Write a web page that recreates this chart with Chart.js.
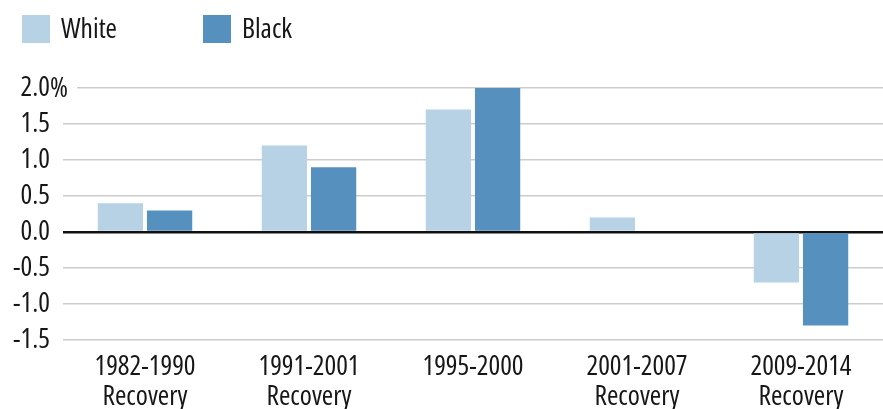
<!DOCTYPE html>
<html>
<head>
<meta charset="utf-8">
<script src="https://cdn.jsdelivr.net/npm/chart.js@4/dist/chart.umd.min.js"></script>
<style>
  html, body { margin: 0; padding: 0; background: #fff; }
  #wrap { width: 883px; height: 409px; position: relative; }
</style>
</head>
<body>
<div id="wrap"><canvas id="c" width="883" height="409"></canvas></div>
<script>
// Recovery periods and average annual change, by race
const categories = [
  ['1982-1990', 'Recovery'],
  ['1991-2001', 'Recovery'],
  '1995-2000',
  ['2001-2007', 'Recovery'],
  ['2009-2014', 'Recovery']
];
const seriesNames = ['White', 'Black'];
const whiteValues = [0.4, 1.2, 1.7, 0.2, -0.7];
const blackValues = [0.3, 0.9, 2.0, 0, -1.3];
const yTicks = [-1.5, -1.0, -0.5, 0.0, 0.5, 1.0, 1.5, 2.0];

const TEXT = '#161616';
const COLORS = ['#b8d2e5', '#5590bf'];

// Pick the narrowest available face: a condensed stretch of a variable
// sans if the system has one, otherwise DejaVu Sans Condensed.
function pickFont() {
  const ctx = document.createElement('canvas').getContext('2d');
  const sample = '1982-1990';
  const targetWidth = 108;
  const candidates = [
    { family: "'Liberation Sans Narrow'", stretch: '' },
    { family: "'Open Sans'", stretch: 'condensed' },
    { family: "'Noto Sans'", stretch: 'condensed' },
    { family: "'Noto Sans'", stretch: 'extra-condensed' },
    { family: "'DejaVu Sans Condensed'", stretch: '' }
  ];
  let best = { family: "'DejaVu Sans Condensed', sans-serif", stretch: '', size: 23 };
  let bestSize = 0;
  candidates.forEach(c => {
    ctx.font = '10px monospace';
    const probe = (c.stretch ? c.stretch + ' ' : '') + '27px ' + c.family + ', monospace';
    ctx.font = probe;
    if (ctx.font === '10px monospace') return;
    const w = ctx.measureText(sample).width;
    ctx.font = '27px monospace';
    if (Math.abs(w - ctx.measureText(sample).width) < 0.5) return; // face missing
    const size = Math.min(27.5, 27 * targetWidth / w);
    if (size > bestSize + 0.3) {
      bestSize = size;
      best = { family: c.family + ', sans-serif', stretch: c.stretch, size: size };
    }
  });
  return best;
}
const FACE = pickFont();
const fontOf = (size, lh) => ({ family: FACE.family, size: size, weight: FACE.stretch || undefined, lineHeight: lh || 1.1 });
const cssFont = (size) => (FACE.stretch ? FACE.stretch + ' ' : '') + size + 'px ' + FACE.family;

// Legend drawn across the top-left, plus the "%" suffix on the top tick
const extras = {
  id: 'extras',
  afterDraw(chart) {
    const ctx = chart.ctx;
    ctx.save();
    ctx.font = cssFont(FACE.size);
    ctx.textBaseline = 'middle';
    const legendX = [22, 203];
    chart.data.datasets.forEach((ds, i) => {
      ctx.fillStyle = ds.backgroundColor;
      ctx.fillRect(legendX[i], 15, 28, 28);
      ctx.fillStyle = TEXT;
      ctx.textAlign = 'left';
      ctx.fillText(ds.label, legendX[i] + 39, 30);
    });
    // percent sign after the top tick label
    const y = chart.scales.y;
    const py = y.getPixelForValue(yTicks[yTicks.length - 1]);
    ctx.fillStyle = '#fff';
    ctx.fillRect(y.right - 1, py - 3, 15, 6);
    ctx.fillStyle = TEXT;
    ctx.fillText('%', 50, py + 1);
    ctx.restore();
  }
};

new Chart(document.getElementById('c'), {
  type: 'bar',
  data: {
    labels: categories,
    datasets: [
      { label: seriesNames[0], data: whiteValues, backgroundColor: COLORS[0] },
      { label: seriesNames[1], data: blackValues, backgroundColor: COLORS[1] }
    ]
  },
  options: {
    responsive: false,
    animation: false,
    devicePixelRatio: 1,
    layout: { padding: { top: 88, right: 0, left: 0, bottom: 0 } },
    categoryPercentage: 0.6,
    barPercentage: 0.92,
    plugins: {
      legend: { display: false },
      tooltip: { enabled: false }
    },
    scales: {
      x: {
        grid: { display: false, drawTicks: false },
        border: { display: false },
        ticks: {
          color: TEXT,
          font: fontOf(FACE.size, 1.06),
          padding: 13,
          maxRotation: 0,
          autoSkip: false
        },
        afterFit(s) { s.height = 69; }
      },
      y: {
        min: -1.5,
        max: 2.0,
        afterBuildTicks(s) { s.ticks = yTicks.map(v => ({ value: v })); },
        border: { display: false },
        grid: {
          drawTicks: false,
          color: ctx => ctx.tick && ctx.tick.value === 0 ? '#111' : '#cdcdcd',
          lineWidth: ctx => ctx.tick && ctx.tick.value === 0 ? 2.5 : 1.5
        },
        ticks: {
          color: TEXT,
          font: fontOf(FACE.size),
          padding: 13,
          callback: v => Number(v).toFixed(1)
        },
        afterFit(s) { s.width = 63; }
      }
    }
  },
  plugins: [extras]
});
</script>
</body>
</html>
